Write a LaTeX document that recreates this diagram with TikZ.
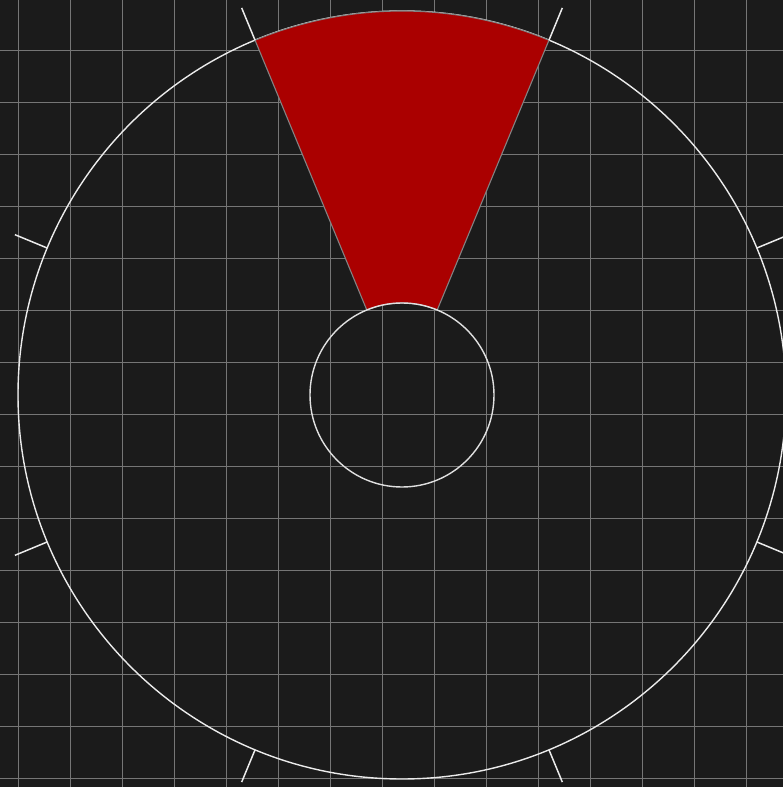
\documentclass[tikz,border=0pt]{standalone}
\definecolor{DialBg}{RGB}{27,27,27}
\definecolor{DialRed}{RGB}{170,0,0}
\definecolor{DialGrid}{RGB}{118,118,118}
\definecolor{DialEdge}{RGB}{130,130,130}

\begin{document}
\begin{tikzpicture}[x=1pt, y=1pt,
                gridline/.style={draw=DialGrid, line width=0.9pt},
                rim/.style={draw=white!92!black, line width=1.4pt},
                hub/.style={draw=white!88!black, line width=1.4pt},
                sector/.style={fill=DialRed, draw=DialEdge, line width=1.1pt},
                dialtick/.style={draw=white!92!black, line width=1.5pt}]

                % Background
                \fill[DialBg] (0,0) rectangle (783,787);
                \useasboundingbox (0,0) rectangle (783,787);
                \clip (0,0) rectangle (783,787);

                % Grid
                \foreach \x in {18,70,...,746} \draw[gridline] (\x,0) -- (\x,787);
                \foreach \y in {9,61,...,737} \draw[gridline] (0,\y) -- (783,\y);

                \coordinate (centre) at (402,392);

                % Outer rim
                \draw[rim] (centre) circle[radius=384];

                % Sector
                \draw[sector] ([shift={(67.5:92)}]centre) arc[start angle=67.5, end angle=112.5, radius=92]
                    -- ([shift={(112.5:384)}]centre) arc[start angle=112.5, end angle=67.5, radius=384] -- cycle;

                % Hub
                \draw[hub] (centre) circle[radius=92];

                % Ticks
                \foreach \a in {22.5,67.5,...,337.5}
                    \draw[dialtick] ([shift={(\a:384)}]centre) -- ([shift={(\a:419)}]centre);
            \end{tikzpicture}
\end{document}
